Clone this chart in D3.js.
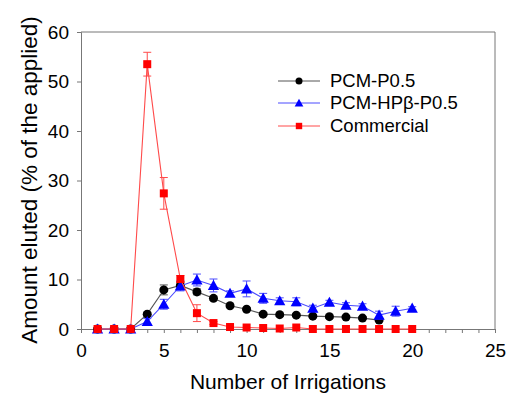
<!DOCTYPE html>
<html><head><meta charset="utf-8">
<script src="https://cdn.jsdelivr.net/npm/d3@7"></script>
<style>body{margin:0;background:#fff}svg{display:block}</style>
</head><body>
<svg id="c" width="507" height="395"></svg>
<script>
const irrigations = [1,2,3,4,5,6,7,8,9,10,11,12,13,14,15,16,17,18,19,20];
const pcmP05 = [0,0,0,3.0,7.9,8.8,7.5,6.2,4.7,4.0,3.0,2.9,2.8,2.6,2.5,2.4,2.2,1.8];
const pcmP05Err = [0,0,0,0.4,1.0,0.8,0.6,0.4,0.3,0.3,0.3,0.3,0.3,0.3,0.3,0.3,0.3,0.3];
const pcmHP = [0,0,0,1.5,5.0,8.7,9.9,8.8,7.2,8.1,6.2,5.7,5.5,4.2,5.4,4.8,4.6,2.8,3.6,4.2];
const pcmHPErr = [0,0,0,0.6,1.0,1.0,1.2,1.3,0.5,1.6,1.0,0.6,0.8,0.6,0.4,0.5,0.5,0.8,1.0,0.3];
const commercial = [0,0,0,53.5,27.4,10.1,3.2,1.2,0.4,0.3,0.2,0.1,0.3,0,0,0,0,0,0,0];
const commercialErr = [0,0,0,2.4,3.2,0.7,1.7,0.3,0,0,0,0,0,0,0,0,0,0,0,0];
const xTicks = [0,5,10,15,20,25];
const yTicks = [0,10,20,30,40,50,60];
const seriesNames = ["PCM-P0.5","PCM-HPβ-P0.5","Commercial"];

const svg = d3.select("#c");
const x = d3.scaleLinear().domain([0,25]).range([81,495]);
const y = d3.scaleLinear().domain([0,60]).range([329,32]);
const font = "Liberation Sans, Arial, sans-serif";

const series = [
  {name: seriesNames[0], vals: pcmP05, err: pcmP05Err, color:"#000000", line:"#555555", shape:"circle"},
  {name: seriesNames[1], vals: pcmHP, err: pcmHPErr, color:"#0000ff", line:"#4a4aff", shape:"triangle"},
  {name: seriesNames[2], vals: commercial, err: commercialErr, color:"#ff0000", line:"#ff4a4a", shape:"square"}
];

// frame
svg.append("line").attr("x1",x(0)).attr("x2",x(25)).attr("y1",y(60)).attr("y2",y(60)).attr("stroke","#777").attr("stroke-width",1);
svg.append("line").attr("x1",x(25)).attr("x2",x(25)).attr("y1",y(60)).attr("y2",y(0)).attr("stroke","#777").attr("stroke-width",1);

// axes
const xAxis = svg.append("g").attr("transform",`translate(0,${y(0)})`)
  .call(d3.axisBottom(x).tickValues(d3.range(0,26,1)).tickSize(4).tickFormat(d => xTicks.includes(d) ? d : ""));
xAxis.selectAll("text").attr("font-family",font).attr("font-size",19).attr("fill","#000").attr("dy","1.1em");
xAxis.selectAll("line").attr("stroke","#777");
xAxis.select(".domain").attr("stroke","#777");

const yAxis = svg.append("g").attr("transform",`translate(${x(0)},0)`)
  .call(d3.axisLeft(y).tickValues(yTicks).tickSize(4).tickPadding(8));
yAxis.selectAll("text").attr("font-family",font).attr("font-size",19).attr("fill","#000");
yAxis.selectAll("line").attr("stroke","#777");
yAxis.select(".domain").attr("stroke","#777");

// titles
svg.append("text").attr("x",288).attr("y",389).attr("text-anchor","middle")
  .attr("font-family",font).attr("font-size",21).text("Number of Irrigations");
svg.append("text").attr("transform","translate(37,180) rotate(-90)").attr("text-anchor","middle")
  .attr("font-family",font).attr("font-size",22.5).text("Amount eluted (% of the applied)");

function drawMarker(g, shape, cx, cy, size, color){
  if(shape==="circle") g.append("circle").attr("cx",cx).attr("cy",cy).attr("r",size).attr("fill",color);
  else if(shape==="square") g.append("rect").attr("x",cx-size).attr("y",cy-size).attr("width",size*2).attr("height",size*2).attr("fill",color);
  else {
    const s = size*1.25;
    g.append("path").attr("d",`M${cx},${cy-s} L${cx+s},${cy+s*0.8} L${cx-s},${cy+s*0.8} Z`).attr("fill",color);
  }
}

// draw order: black, blue, red on top
series.forEach(s => {
  const g = svg.append("g");
  const pts = s.vals.map((v,i)=>({x:irrigations[i], y:v, e:s.err[i]}));
  g.append("path").datum(pts).attr("fill","none").attr("stroke",s.line).attr("stroke-width",1.1)
    .attr("d", d3.line().x(d=>x(d.x)).y(d=>y(d.y)));
  pts.filter(d=>d.e>0).forEach(d=>{
    const cx = x(d.x);
    g.append("line").attr("x1",cx).attr("x2",cx).attr("y1",y(d.y+d.e)).attr("y2",y(d.y-d.e)).attr("stroke",s.line);
    [d.y+d.e, d.y-d.e].forEach(v=>{
      g.append("line").attr("x1",cx-4).attr("x2",cx+4).attr("y1",y(v)).attr("y2",y(v)).attr("stroke",s.line);
    });
  });
  pts.forEach(d=> drawMarker(g, s.shape, x(d.x), y(d.y), s.shape==="square"?4:4.5, s.color));
});

// legend
const legY = [81,103,126];
series.forEach((s,i)=>{
  const g = svg.append("g");
  g.append("line").attr("x1",278).attr("x2",320).attr("y1",legY[i]).attr("y2",legY[i]).attr("stroke",s.line);
  drawMarker(g, s.shape, 299, legY[i], s.shape==="square"?3.2:3.5, s.color);
  g.append("text").attr("x",330).attr("y",legY[i]).attr("dy","0.35em")
    .attr("font-family",font).attr("font-size",18.5).text(s.name);
});
</script>
</body></html>
